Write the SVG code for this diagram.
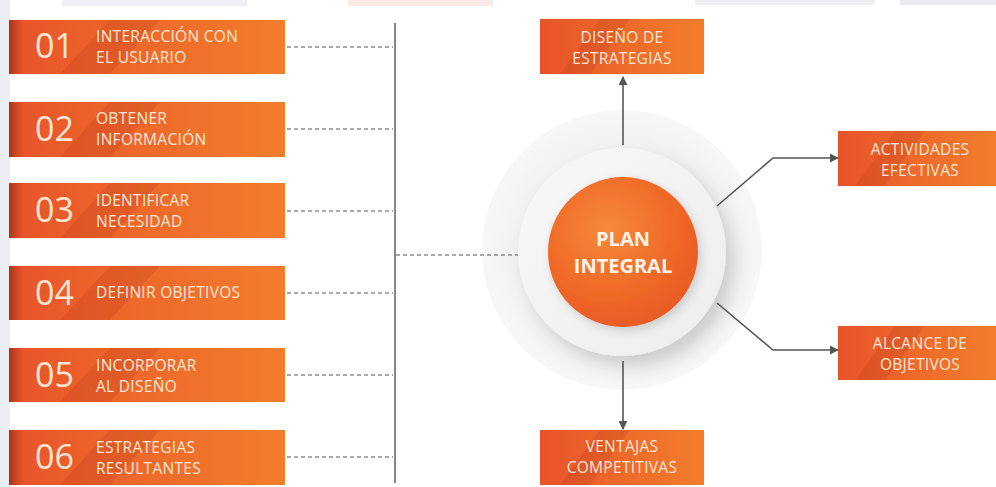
<svg xmlns="http://www.w3.org/2000/svg" width="996" height="487" viewBox="0 0 996 487">
<defs>
<linearGradient id="og" x1="0" y1="0" x2="1" y2="0">
<stop offset="0" stop-color="#e8532a"/>
<stop offset="0.5" stop-color="#ee6a2a"/>
<stop offset="1" stop-color="#f27d2c"/>
</linearGradient>
<linearGradient id="fold" x1="0" y1="0" x2="1" y2="0">
<stop offset="0" stop-color="#8a2a12" stop-opacity="0.75"/>
<stop offset="1" stop-color="#c84020" stop-opacity="0"/>
</linearGradient>
<radialGradient id="cg" cx="0.4" cy="0.35" r="0.7">
<stop offset="0" stop-color="#f58a3a"/>
<stop offset="0.6" stop-color="#f06a28"/>
<stop offset="1" stop-color="#e85a24"/>
</radialGradient>
<radialGradient id="outer" cx="0.5" cy="0.5" r="0.5">
<stop offset="0.7" stop-color="#f1f1f1"/>
<stop offset="1" stop-color="#f7f7f7"/>
</radialGradient>
<linearGradient id="inner" x1="0" y1="0" x2="1" y2="1">
<stop offset="0" stop-color="#f8f8f8"/>
<stop offset="1" stop-color="#ededed"/>
</linearGradient>
<filter id="sh" x="-30%" y="-30%" width="160%" height="160%">
<feDropShadow dx="8" dy="10" stdDeviation="9" flood-color="#000" flood-opacity="0.16"/>
</filter>
<filter id="sh2" x="-30%" y="-30%" width="160%" height="160%">
<feDropShadow dx="3" dy="4" stdDeviation="5" flood-color="#000" flood-opacity="0.15"/>
</filter>
<marker id="ah" viewBox="0 0 10 10" refX="9" refY="5" markerWidth="9" markerHeight="9" orient="auto" markerUnits="userSpaceOnUse">
<path d="M0,0 L10,5 L0,10 z" fill="#555"/>
</marker>
</defs>
<style>
.box{fill:url(#og)}
.band{fill:#b8381a;opacity:0.22}
.num{font-family:"Open Sans","Liberation Sans",sans-serif;font-size:34px;fill:#fde6d6}
.t{font-family:"Open Sans","Liberation Sans",sans-serif;font-size:15.5px;letter-spacing:0.3px;fill:#fde6d6}
.tc{font-family:"Open Sans","Liberation Sans",sans-serif;font-size:15.5px;letter-spacing:0.3px;fill:#fde6d6;text-anchor:middle}
.ct{font-family:"Open Sans","Liberation Sans",sans-serif;font-size:20px;font-weight:bold;fill:#fff3ea;text-anchor:middle}
.dash{stroke:#555;stroke-width:1.2;stroke-dasharray:4 3;fill:none}
.arr{stroke:#555;stroke-width:1.6;fill:none;marker-end:url(#ah)}
</style>
<rect width="996" height="487" fill="#ffffff"/>
<rect x="0" y="0" width="10" height="487" fill="#eceef2"/>
<rect x="62" y="0" width="185" height="6" fill="#eef0f4"/>
<rect x="348" y="0" width="145" height="6" fill="#fbe9e8"/>
<rect x="695" y="0" width="180" height="5" fill="#f0f0f3"/>
<rect x="900" y="0" width="96" height="5" fill="#e9e9ee"/>

<g id="plan">
<circle cx="622" cy="250" r="140" fill="url(#outer)"/>
<circle cx="622" cy="252" r="104" fill="url(#inner)" filter="url(#sh)"/>
<circle cx="623" cy="252" r="75" fill="url(#cg)" filter="url(#sh2)"/>
<text class="ct" x="623" y="246">PLAN</text>
<text class="ct" x="623" y="273">INTEGRAL</text>
</g>

<g id="connectors">
<line class="dash" x1="287" y1="47" x2="393" y2="47"/>
<line class="dash" x1="287" y1="129" x2="393" y2="129"/>
<line class="dash" x1="287" y1="211" x2="393" y2="211"/>
<line class="dash" x1="287" y1="293" x2="393" y2="293"/>
<line class="dash" x1="287" y1="375" x2="393" y2="375"/>
<line class="dash" x1="287" y1="457" x2="393" y2="457"/>
<line x1="395" y1="23" x2="395" y2="483" stroke="#444" stroke-width="1.3"/>
<line class="dash" x1="396" y1="255" x2="518" y2="255"/>
<line class="arr" x1="623" y1="145" x2="623" y2="77"/>
<line class="arr" x1="623" y1="361" x2="623" y2="429"/>
<polyline class="arr" points="717,206 773,158 838,158"/>
<polyline class="arr" points="717,303 773,350 838,350"/>
</g>

<g id="n01">
<rect class="box" x="9" y="20" width="276" height="54"/>
<polygon class="band" points="60,74 110,20 160,20 110,74"/>
<rect x="9" y="20" width="16" height="54" fill="url(#fold)"/>
<text class="num" x="35" y="58">01</text>
<text class="t" x="96" y="42">INTERACCIÓN CON</text>
<text class="t" x="96" y="63">EL USUARIO</text>
</g>
<g id="n02">
<rect class="box" x="9" y="102" width="276" height="55"/>
<polygon class="band" points="60,157 110,102 160,102 110,157"/>
<rect x="9" y="102" width="16" height="55" fill="url(#fold)"/>
<text class="num" x="35" y="141">02</text>
<text class="t" x="96" y="124">OBTENER</text>
<text class="t" x="96" y="145">INFORMACIÓN</text>
</g>
<g id="n03">
<rect class="box" x="9" y="183" width="276" height="55"/>
<polygon class="band" points="60,238 110,183 160,183 110,238"/>
<rect x="9" y="183" width="16" height="55" fill="url(#fold)"/>
<text class="num" x="35" y="222">03</text>
<text class="t" x="96" y="206">IDENTIFICAR</text>
<text class="t" x="96" y="227">NECESIDAD</text>
</g>
<g id="n04">
<rect class="box" x="9" y="266" width="276" height="54"/>
<polygon class="band" points="60,320 110,266 160,266 110,320"/>
<rect x="9" y="266" width="16" height="54" fill="url(#fold)"/>
<text class="num" x="35" y="305">04</text>
<text class="t" x="96" y="298">DEFINIR OBJETIVOS</text>
</g>
<g id="n05">
<rect class="box" x="9" y="348" width="276" height="54"/>
<polygon class="band" points="60,402 110,348 160,348 110,402"/>
<rect x="9" y="348" width="16" height="54" fill="url(#fold)"/>
<text class="num" x="35" y="387">05</text>
<text class="t" x="96" y="371">INCORPORAR</text>
<text class="t" x="96" y="392">AL DISEÑO</text>
</g>
<g id="n06">
<rect class="box" x="9" y="430" width="276" height="55"/>
<polygon class="band" points="60,485 110,430 160,430 110,485"/>
<rect x="9" y="430" width="16" height="55" fill="url(#fold)"/>
<text class="num" x="35" y="469">06</text>
<text class="t" x="96" y="453">ESTRATEGIAS</text>
<text class="t" x="96" y="474">RESULTANTES</text>
</g>

<g id="disenio">
<rect class="box" x="540" y="19" width="164" height="55"/>
<polygon class="band" points="560,74 600,19 630,19 590,74"/>
<text class="tc" x="622" y="43">DISEÑO DE</text>
<text class="tc" x="622" y="64">ESTRATEGIAS</text>
</g>
<g id="actividades">
<rect class="box" x="838" y="131" width="158" height="55"/>
<polygon class="band" points="855,186 895,131 925,131 885,186"/>
<text class="tc" x="920" y="155">ACTIVIDADES</text>
<text class="tc" x="920" y="176">EFECTIVAS</text>
</g>
<g id="alcance">
<rect class="box" x="838" y="326" width="158" height="54"/>
<polygon class="band" points="855,380 895,326 925,326 885,380"/>
<text class="tc" x="920" y="349">ALCANCE DE</text>
<text class="tc" x="920" y="370">OBJETIVOS</text>
</g>
<g id="ventajas">
<rect class="box" x="540" y="430" width="164" height="55"/>
<polygon class="band" points="560,485 600,430 630,430 590,485"/>
<text class="tc" x="622" y="452">VENTAJAS</text>
<text class="tc" x="622" y="473">COMPETITIVAS</text>
</g>
</svg>
